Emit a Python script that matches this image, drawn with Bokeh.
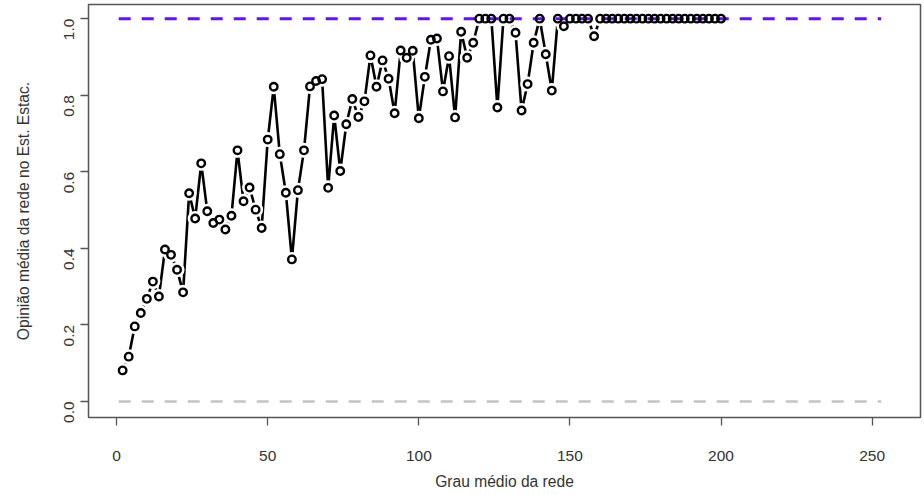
import math
from bokeh.plotting import figure
from bokeh.models import Range1d, FixedTicker, PrintfTickFormatter
from bokeh.embed import file_html
from bokeh.resources import INLINE

# ---- data ----
grau = [2, 4, 6, 8, 10, 12, 14, 16, 18, 20,
        22, 24, 26, 28, 30, 32, 34, 36, 38, 40,
        42, 44, 46, 48, 50, 52, 54, 56, 58, 60,
        62, 64, 66, 68, 70, 72, 74, 76, 78, 80,
        82, 84, 86, 88, 90, 92, 94, 96, 98, 100,
        102, 104, 106, 108, 110, 112, 114, 116, 118, 120,
        122, 124, 126, 128, 130, 132, 134, 136, 138, 140,
        142, 144, 146, 148, 150, 152, 154, 156, 158, 160,
        162, 164, 166, 168, 170, 172, 174, 176, 178, 180,
        182, 184, 186, 188, 190, 192, 194, 196, 198, 200]
opiniao = [0.081, 0.117, 0.196, 0.231, 0.268, 0.313, 0.274, 0.397, 0.383, 0.344,
           0.285, 0.544, 0.478, 0.622, 0.497, 0.466, 0.475, 0.449, 0.485, 0.656,
           0.523, 0.559, 0.501, 0.453, 0.684, 0.822, 0.646, 0.545, 0.371, 0.552,
           0.656, 0.823, 0.837, 0.842, 0.558, 0.747, 0.602, 0.724, 0.790, 0.743,
           0.784, 0.904, 0.822, 0.891, 0.843, 0.753, 0.917, 0.898, 0.916, 0.740,
           0.848, 0.945, 0.948, 0.810, 0.902, 0.742, 0.966, 0.898, 0.937, 1.0,
           1.0, 1.0, 0.768, 1.0, 1.0, 0.963, 0.760, 0.829, 0.937, 1.0,
           0.907, 0.812, 1.0, 0.980, 1.0, 1.0, 1.0, 1.0, 0.954, 1.0,
           1.0, 1.0, 1.0, 1.0, 1.0, 1.0, 1.0, 1.0, 1.0, 1.0,
           1.0, 1.0, 1.0, 1.0, 1.0, 1.0, 1.0, 1.0, 1.0, 1.0]
ref_x = [0.7, 253.0]
ref_top = [1.0, 1.0]
ref_bottom = [0.0, 0.0]
x_ticks = [0, 50, 100, 150, 200, 250]
y_ticks = [0.0, 0.2, 0.4, 0.6, 0.8, 1.0]
x_title = "Grau médio da rede"
y_title = "Opinião média da rede no Est. Estac."

FONT = "Liberation Sans"

p = figure(width=924, height=495, output_backend="svg", toolbar_location=None,
           x_range=Range1d(-9.3, 266.0), y_range=Range1d(-0.042, 1.037),
           min_border_left=88, min_border_right=4, min_border_top=4,
           min_border_bottom=78)
p.background_fill_color = "white"
p.border_fill_color = "white"
p.grid.visible = False
p.outline_line_color = "#555555"
p.outline_line_width = 1.5

for ax in (p.xaxis[0], p.yaxis[0]):
    ax.axis_line_color = None
    ax.major_tick_out = 8
    ax.major_tick_in = 0
    ax.minor_tick_line_color = None
    ax.major_tick_line_color = "#555555"
    ax.major_tick_line_width = 1.3
    ax.major_label_text_font = FONT
    ax.major_label_text_font_size = "15.5px"
    ax.major_label_text_color = "#333333"
    ax.axis_label_text_font = FONT
    ax.axis_label_text_font_size = "15.6px"
    ax.axis_label_text_font_style = "normal"
    ax.axis_label_text_color = "#333333"

p.xaxis.ticker = FixedTicker(ticks=x_ticks)
p.yaxis.ticker = FixedTicker(ticks=y_ticks)
p.yaxis.formatter = PrintfTickFormatter(format="%.1f")
p.yaxis.major_label_orientation = math.pi / 2
p.xaxis.major_label_standoff = 25
p.yaxis.major_label_standoff = 11
p.xaxis.axis_label = x_title
p.yaxis.axis_label = y_title
p.xaxis.axis_label_standoff = 9
p.yaxis.axis_label_standoff = 25

# connecting line (type = "b")
p.line(grau, opiniao, line_color="black", line_width=2.6)
# white gaps around points
p.scatter(grau, opiniao, size=15, marker="circle", fill_color="white",
          line_color=None)
# reference lines
p.line(ref_x, ref_bottom, line_color="#c4c4c4", line_width=2.5, line_dash="12 11")
p.line(ref_x, ref_top, line_color="#6414e6", line_width=3, line_dash="12 11")
# points
p.scatter(grau, opiniao, size=7.5, marker="circle", fill_color=None,
          line_color="black", line_width=2.4)

open("out.html", "w").write(file_html(p, INLINE))
